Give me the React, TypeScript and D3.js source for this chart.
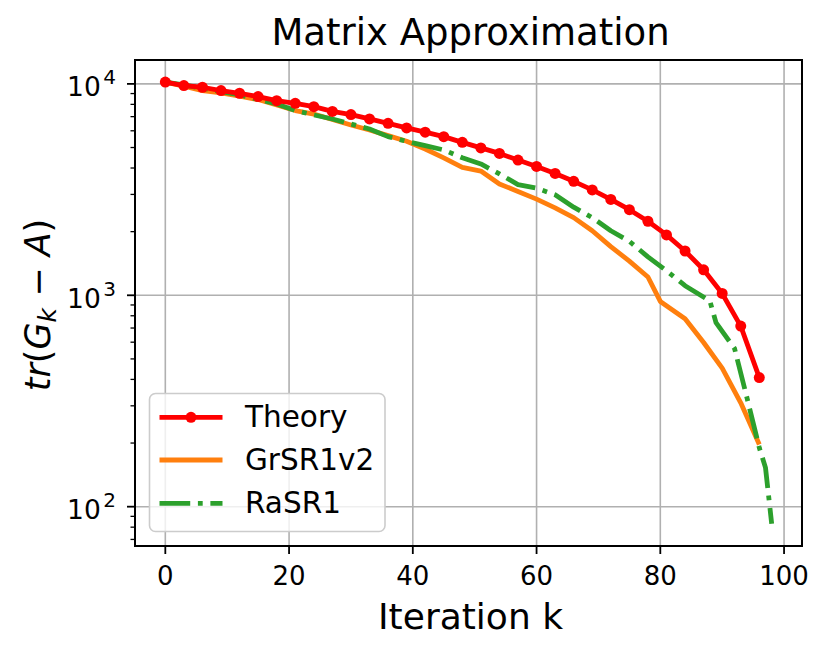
import React, { useEffect } from "react";
import * as d3 from "d3";

// ---- data ----
const theoryIter = [0, 3, 6, 9, 12, 15, 18, 21, 24, 27, 30, 33, 36, 39, 42, 45, 48, 51, 54, 57, 60, 63, 66, 69, 72, 75, 78, 81, 84, 87, 90, 93, 96];
const theoryVals = [10200, 9820, 9640, 9300, 9030, 8710, 8330, 8090, 7800, 7410, 7160, 6830, 6510, 6190, 5910, 5630, 5290, 4980, 4690, 4360, 4070, 3770, 3460, 3150, 2840, 2540, 2240, 1930, 1620, 1320, 1020, 715, 408];

const grIter = [0, 3, 6, 9, 12, 15, 18, 21, 24, 27, 30, 33, 36, 39, 42, 45, 48, 51, 54, 57, 60, 63, 66, 69, 72, 75, 78, 80, 84, 87, 90, 93, 96];
const grVals = [10200, 9750, 9300, 9060, 8740, 8430, 7950, 7480, 7200, 6780, 6390, 6050, 5690, 5350, 4920, 4470, 4030, 3870, 3360, 3100, 2850, 2590, 2330, 2020, 1700, 1450, 1220, 935, 775, 598, 452, 310, 197];

const raIter = [0, 3, 6, 9, 12, 15, 18, 21, 24, 27, 30, 33, 36, 39, 42, 45, 48, 51, 54, 57, 60, 63, 66, 69, 72, 75, 78, 81, 84, 88, 89, 92, 94, 96, 97, 98];
const raVals = [10200, 9890, 9530, 9200, 8870, 8430, 8040, 7480, 7130, 6820, 6460, 6120, 5630, 5350, 5100, 4870, 4470, 4180, 3750, 3340, 3210, 2990, 2610, 2330, 2020, 1800, 1520, 1306, 1110, 942, 743, 560, 328, 190, 153, 83];

const xTicks = [0, 20, 40, 60, 80, 100];
const yTicks = [100, 1000, 10000];
const yTickExp = ["2", "3", "4"];
const minorMults = [2, 3, 4, 5, 6, 7, 8, 9];
const minorDecades = [10, 100, 1000];

const seriesNames = ["Theory", "GrSR1v2", "RaSR1"];
const colors = ["#ff0000", "#ff7f0e", "#2ca02c"];

const W = 830, H = 655;
const L = 135, R = 802, T = 60, B = 546;
const FONT = "DejaVu Sans, sans-serif";

export default function App() {
  useEffect(() => {
    document.body.style.margin = "0";
  }, []);

  const x = d3.scaleLinear().domain([-4.9, 102.9]).range([L, R]);
  const y = d3.scaleLog().domain([Math.pow(10, 1.814), Math.pow(10, 4.113)]).range([B, T]);

  const line = d3
    .line<[number, number]>()
    .x((d) => x(d[0]))
    .y((d) => y(d[1]));

  const theoryPts: [number, number][] = theoryIter.map((k, i) => [k, theoryVals[i]]);
  const grPts: [number, number][] = grIter.map((k, i) => [k, grVals[i]]);
  const raPts: [number, number][] = raIter.map((k, i) => [k, raVals[i]]);

  const [yMin, yMax] = y.domain();
  const minors: number[] = [];
  minorDecades.forEach((d) =>
    minorMults.forEach((m) => {
      const v = d * m;
      if (v >= yMin && v <= yMax) minors.push(v);
    })
  );

  const grid = "#b0b0b0";
  const lw = 4.8;
  const dashdot = `${6.4 * lw},${1.6 * lw},${1 * lw},${1.6 * lw}`;

  // legend
  const lgX = 149.5, lgY = 393.5, lgW = 235.5, lgH = 138;
  const lgRows = [417.3, 460, 503.3];
  const lgLine0 = 159.5, lgLine1 = 222.5, lgText = 245;

  return (
    <svg width={W} height={H} style={{ position: "absolute", left: 0, top: 0, background: "#fff" }} fontFamily={FONT}>
      <rect x={0} y={0} width={W} height={H} fill="#fff" />
      {/* grid */}
      {xTicks.map((t) => (
        <line key={"gx" + t} x1={x(t)} x2={x(t)} y1={T} y2={B} stroke={grid} strokeWidth={1.6} />
      ))}
      {yTicks.map((t) => (
        <line key={"gy" + t} x1={L} x2={R} y1={y(t)} y2={y(t)} stroke={grid} strokeWidth={1.6} />
      ))}

      <defs>
        <clipPath id="plotclip">
          <rect x={L} y={T} width={R - L} height={B - T} />
        </clipPath>
      </defs>

      <g clipPath="url(#plotclip)">
        <path d={line(grPts) || ""} fill="none" stroke={colors[1]} strokeWidth={lw} strokeLinejoin="round" strokeLinecap="butt" />
        <path d={line(raPts) || ""} fill="none" stroke={colors[2]} strokeWidth={lw} strokeDasharray={dashdot} strokeLinejoin="round" strokeLinecap="butt" />
        <path d={line(theoryPts) || ""} fill="none" stroke={colors[0]} strokeWidth={lw} strokeLinejoin="round" />
        {theoryPts.map((p, i) => (
          <circle key={"m" + i} cx={x(p[0])} cy={y(p[1])} r={5.5} fill={colors[0]} />
        ))}
      </g>

      {/* spines */}
      <rect x={L} y={T} width={R - L} height={B - T} fill="none" stroke="#000" strokeWidth={2} />

      {/* x ticks */}
      {xTicks.map((t) => (
        <g key={"xt" + t}>
          <line x1={x(t)} x2={x(t)} y1={B} y2={B + 8} stroke="#000" strokeWidth={1.8} />
          <text x={x(t)} y={B + 39} textAnchor="middle" fontSize={26} fill="#000">
            {t}
          </text>
        </g>
      ))}

      {/* y ticks */}
      {yTicks.map((t, i) => (
        <g key={"yt" + t}>
          <line x1={L - 8} x2={L} y1={y(t)} y2={y(t)} stroke="#000" strokeWidth={1.8} />
          <text x={116} y={y(t) + 12.5} textAnchor="end" fontSize={26.5} fill="#000">
            10
            <tspan fontSize={20} dx={2.5} dy={-12}>
              {yTickExp[i]}
            </tspan>
          </text>
        </g>
      ))}
      {minors.map((v) => (
        <line key={"mn" + v} x1={L - 4.5} x2={L} y1={y(v)} y2={y(v)} stroke="#000" strokeWidth={1.3} />
      ))}

      {/* title */}
      <text x={(L + R) / 2 + 2} y={45} textAnchor="middle" fontSize={37} fill="#000">
        Matrix Approximation
      </text>

      {/* x label */}
      <text x={(L + R) / 2 + 2} y={629} textAnchor="middle" fontSize={36} fill="#000">
        Iteration k
      </text>

      {/* y label */}
      <text transform={`translate(50, ${(T + B) / 2 + 2}) rotate(-90)`} textAnchor="middle" fontSize={35} fill="#000">
        <tspan fontStyle="italic">tr</tspan>
        <tspan>(</tspan>
        <tspan fontStyle="italic">G</tspan>
        <tspan fontStyle="italic" fontSize={25} dy={6}>k</tspan>
        <tspan dy={-6}> − </tspan>
        <tspan fontStyle="italic">A</tspan>
        <tspan>)</tspan>
      </text>

      {/* legend */}
      <rect x={lgX} y={lgY} width={lgW} height={lgH} rx={6} ry={6} fill="#fff" fillOpacity={0.8} stroke="#cccccc" strokeWidth={1.6} />
      {seriesNames.map((name, i) => (
        <g key={"lg" + i}>
          <line
            x1={lgLine0}
            x2={lgLine1}
            y1={lgRows[i]}
            y2={lgRows[i]}
            stroke={colors[i]}
            strokeWidth={lw}
            strokeDasharray={i === 2 ? dashdot : undefined}
          />
          {i === 0 && <circle cx={(lgLine0 + lgLine1) / 2} cy={lgRows[i]} r={5.5} fill={colors[0]} />}
          <text x={lgText} y={lgRows[i] + 10} fontSize={29.5} fill="#000">
            {name}
          </text>
        </g>
      ))}
    </svg>
  );
}
